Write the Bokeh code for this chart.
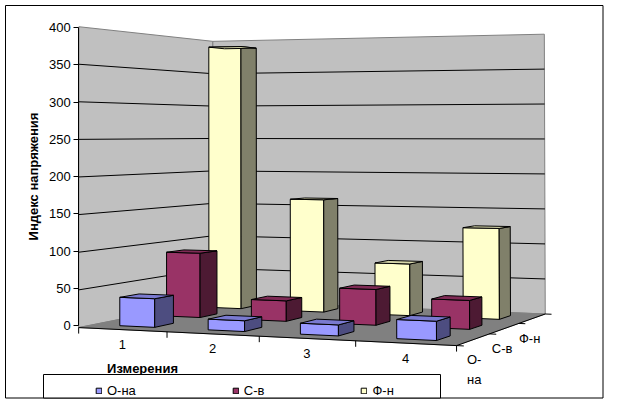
import numpy as np
from bokeh.plotting import figure
from bokeh.models import Range1d, LinearAxis, FixedTicker, Legend, LegendItem
from bokeh.core.properties import value
from bokeh.embed import file_html
from bokeh.resources import INLINE

# ---------------- data ----------------
CATEGORIES = ["1", "2", "3", "4"]
SERIES = ["О-на", "С-в", "Ф-н"]
O_NA = [38, 14, 14, 24]
S_V = [90, 28, 48, 38]
F_N = [386, 162, 73, 126]
VALUE_TICKS = [0, 50, 100, 150, 200, 250, 300, 350, 400]
Y_TITLE = "Индекс напряжения"
X_TITLE = "Измерения"

# ---------------- layout / style ----------------
W, H = 604, 399
OFF = 0                      # figure pixel 0 == picture pixel 0
ZERO_PX = 325.0              # picture y of value 0 on the value axis
PX_PER_UNIT = 298.0 / 400.0  # pixels per value unit on the value axis
FONT = "Liberation Sans"
FS = "13px"
BAR_W = 0.4
BAR_D = 0.4

FRONT = ["#9999FF", "#993366", "#FFFFCC"]
SIDE = ["#4D4D80", "#4D1A33", "#80806A"]
TOP = ["#7A7AD0", "#7F2A55", "#D6D6AA"]
WALL = "#C0C0C0"
FLOOR = "#808080"
EDGE = "#808080"

N_CAT = len(CATEGORIES)
N_SER = len(SERIES)
ZMAX = VALUE_TICKS[-1]

# camera calibration: box corners (category, depth, value) -> picture pixels
CAL_WORLD = [(0, 0, 0), (0, 0, ZMAX / 2), (0, 0, ZMAX), (N_CAT, 0, 0),
             (0, N_SER, 0), (0, N_SER, ZMAX / 2), (0, N_SER, ZMAX),
             (N_CAT, N_SER, 0), (N_CAT, N_SER, ZMAX / 2), (N_CAT, N_SER, ZMAX)]
CAL_PAGE = [(78, 325), (78, 176), (78, 27), (457, 347),
            (213, 302), (212, 171), (213, 40),
            (544, 312), (544, 173), (544, 34)]


def fit_camera(world, page):
    w = np.array(world, float)
    s = np.array(page, float)
    wm, ws = w.mean(0), w.std(0)
    sm, ss = s.mean(0), s.std(0)
    wn = (w - wm) / ws
    sn = (s - sm) / ss
    rows = []
    for (X, Y, Z), (x, y) in zip(wn, sn):
        rows.append([X, Y, Z, 1, 0, 0, 0, 0, -x * X, -x * Y, -x * Z, -x])
        rows.append([0, 0, 0, 0, X, Y, Z, 1, -y * X, -y * Y, -y * Z, -y])
    P = np.linalg.svd(np.array(rows))[2][-1].reshape(3, 4)

    def proj(u, v, z):
        q = (np.array([u, v, z], float) - wm) / ws
        r = P @ np.append(q, 1.0)
        px, py = sm + ss * r[:2] / r[2]
        return px, (ZERO_PX - py) / PX_PER_UNIT   # data coords: pixel x, value y
    return proj


proj = fit_camera(CAL_WORLD, CAL_PAGE)


def poly(pts):
    xy = [proj(*p) for p in pts]
    return [a for a, _ in xy], [b for _, b in xy]


def page_y(py):
    return (ZERO_PX - py) / PX_PER_UNIT


p = figure(width=W, height=H, x_range=Range1d(OFF, OFF + W),
           y_range=Range1d(page_y(OFF + H), page_y(OFF)),
           output_backend="svg", toolbar_location=None, min_border=0,
           x_axis_location=None, y_axis_location=None)
p.grid.visible = False
p.outline_line_color = None
p.background_fill_color = "white"
p.border_fill_color = "white"

# chart border
p.quad(left=5, right=W - 1.5, top=page_y(5), bottom=page_y(H - 1.5),
       fill_color="white", line_color="black", line_width=1)

# walls and floor
walls = [
    [(0, 0, 0), (0, N_SER, 0), (0, N_SER, ZMAX), (0, 0, ZMAX)],
    [(0, N_SER, 0), (N_CAT, N_SER, 0), (N_CAT, N_SER, ZMAX), (0, N_SER, ZMAX)],
]
wx, wy = zip(*[poly(w) for w in walls])
p.patches(list(wx), list(wy), fill_color=WALL, line_color=EDGE, line_width=1)

gx, gy = [], []
for t in VALUE_TICKS[1:-1]:
    x, y = poly([(0, 0, t), (0, N_SER, t), (N_CAT, N_SER, t)])
    gx.append(x)
    gy.append(y)
p.multi_line(gx, gy, line_color="black", line_width=1)

fx, fy = poly([(0, 0, 0), (N_CAT, 0, 0), (N_CAT, N_SER, 0), (0, N_SER, 0)])
p.patch(fx, fy, fill_color=FLOOR, line_color=FLOOR, line_width=1)

# category and series axis lines on the floor edges
ax_x, ax_y = poly([(0, 0, 0), (N_CAT, 0, 0), (N_CAT, N_SER, 0)])
p.line(ax_x, ax_y, line_color="black", line_width=1)

# bars, back row first
values = [O_NA, S_V, F_N]
front_renderers = [None] * N_SER
for j in reversed(range(N_SER)):
    fr, sd, tp = ([], []), ([], []), ([], [])
    for i in range(N_CAT):
        h = values[j][i]
        u0, u1 = i + 0.5 - BAR_W / 2, i + 0.5 + BAR_W / 2
        v0, v1 = j + 0.5 - BAR_D / 2, j + 0.5 + BAR_D / 2
        for acc, pts in ((fr, [(u0, v0, 0), (u1, v0, 0), (u1, v0, h), (u0, v0, h)]),
                         (sd, [(u1, v0, 0), (u1, v1, 0), (u1, v1, h), (u1, v0, h)]),
                         (tp, [(u0, v0, h), (u1, v0, h), (u1, v1, h), (u0, v1, h)])):
            x, y = poly(pts)
            acc[0].append(x)
            acc[1].append(y)
    front_renderers[j] = p.patches(fr[0], fr[1], fill_color=FRONT[j], line_color="black", line_width=1)
    p.patches(sd[0], sd[1], fill_color=SIDE[j], line_color="black", line_width=1)
    p.patches(tp[0], tp[1], fill_color=TOP[j], line_color="black", line_width=1)

# value axis (real Bokeh axis placed on the left wall edge)
yaxis = LinearAxis(fixed_location=proj(0, 0, 0)[0], bounds=(VALUE_TICKS[0], ZMAX),
                   ticker=FixedTicker(ticks=VALUE_TICKS, minor_ticks=[]),
                   axis_label=Y_TITLE)
yaxis.axis_line_color = "black"
yaxis.major_tick_line_color = "black"
yaxis.major_tick_out = 5
yaxis.major_tick_in = 0
yaxis.minor_tick_out = 0
yaxis.minor_tick_in = 0
yaxis.major_label_standoff = 3
yaxis.major_label_text_font = FONT
yaxis.major_label_text_font_size = FS
yaxis.major_label_text_color = "black"
yaxis.axis_label_text_font = FONT
yaxis.axis_label_text_font_size = FS
yaxis.axis_label_text_font_style = "bold"
yaxis.axis_label_text_color = "black"
yaxis.axis_label_standoff = 5
p.add_layout(yaxis, "left")

# category axis: ticks and labels along the front floor edge
tx, ty = [], []
for i in range(N_CAT + 1):
    x0, y0 = proj(i, 0, 0)
    tx.append([x0, x0])
    ty.append([y0, y0 - 6 / PX_PER_UNIT])
p.multi_line(tx, ty, line_color="black", line_width=1)
cx, cy = zip(*[proj(i + 0.5, 0, 0) for i in range(N_CAT)])
p.text(list(cx), list(cy), text=CATEGORIES, text_font=value(FONT), text_font_size=FS,
       text_align="center", text_baseline="middle", y_offset=15, text_color="black")

# series (depth) axis along the right floor edge
dx, dy = [], []
for j in range(N_SER + 1):
    x0, y0 = proj(N_CAT, j, 0)
    x1, y1 = proj(N_CAT + 0.07, j, 0)
    dx.append([x0, x1])
    dy.append([y0, y1])
p.multi_line(dx, dy, line_color="black", line_width=1)
sx, sy = zip(*[proj(N_CAT, j + 0.5, 0) for j in range(N_SER)])
depth_labels = ["-\n".join(s.split("-")) if len(s) > 3 else s for s in SERIES]
p.text(list(sx), list(sy), text=depth_labels, text_font=value(FONT), text_font_size=FS,
       text_align="right", text_baseline="top", x_offset=8, y_offset=12,
       text_line_height=1.35, text_color="black")

# category axis title
p.text([142], [page_y(368)], text=[X_TITLE], text_font=value(FONT), text_font_size=FS,
       text_font_style="bold", text_align="center", text_baseline="middle", text_color="black")

# legend frame and legend
p.quad(left=43, right=440, top=page_y(374), bottom=page_y(H - 1.5),
       fill_color="white", line_color="black", line_width=1)
legend = Legend(items=[LegendItem(label=SERIES[j], renderers=[front_renderers[j]]) for j in range(N_SER)],
                orientation="horizontal", location=(95, H - 398), padding=0, margin=0,
                spacing=96, glyph_width=7, glyph_height=7, label_standoff=5,
                label_height=7, label_width=7, border_line_color=None,
                background_fill_alpha=0, label_text_font=FONT, label_text_font_size=FS,
                label_text_color="black")
p.add_layout(legend, "center")

open("out.html", "w").write(file_html(p, INLINE))
